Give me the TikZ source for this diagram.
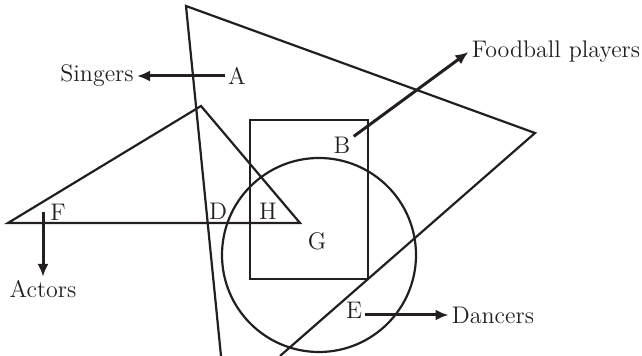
\documentclass[tikz,border=0pt]{standalone}
\usepackage{xcolor}
\usepackage{tikz}
\usetikzlibrary{arrows.meta, positioning, calc}
\definecolor{inkdark}{RGB}{35, 31, 32}

\begin{document}
\begin{tikzpicture}[
    x=0.5pt, y=-0.5pt,
    figline/.style={draw=inkdark, line width=1.1pt, line join=miter},
    pointer/.style={draw=inkdark, -{Latex[length=6.5pt, width=5.5pt]}, line width=1.5pt},
    letter/.style={text=inkdark, inner sep=1.5pt, font=\fontsize{12}{14}\selectfont},
    group/.style={text=inkdark, inner sep=1.5pt, font=\fontsize{12}{14}\selectfont}
]
\useasboundingbox (0,0) rectangle (642,356);

% the four sets
\draw [figline] (221,356) -- (186,6) -- (535,133) -- (280,356);
\draw [figline] (8,223) -- (201,106) -- (300,223) -- cycle;
\draw [figline] (250,120) rectangle (368,279);
\draw [figline] (319,255) circle [radius=97];

% region letters
\node [letter] (a) at (237,76) {A};
\node [letter] (b) at (342,145) {B};
\node [letter] (d) at (218,211) {D};
\node [letter] (e) at (354,310) {E};
\node [letter] (f) at (58,212) {F};
\node [letter] (g) at (317,241) {G};
\node [letter] (h) at (268,211) {H};

% set names
\node [group] (singers) at (97,76) {Singers};
\node [group] (foot) at (556,52) {Foodball players};
\node [group] (actors) at (43,289) {Actors};
\node [group] (dancers) at (493,315) {Dancers};

\path [pointer] (a) -- (singers);
\path [pointer] (b) -- (foot.west);
\path [pointer] (f.west -| actors.north) -- (actors.north);
\path [pointer] (e.east |- dancers.west) -- (dancers.west);

\end{tikzpicture}
\end{document}
